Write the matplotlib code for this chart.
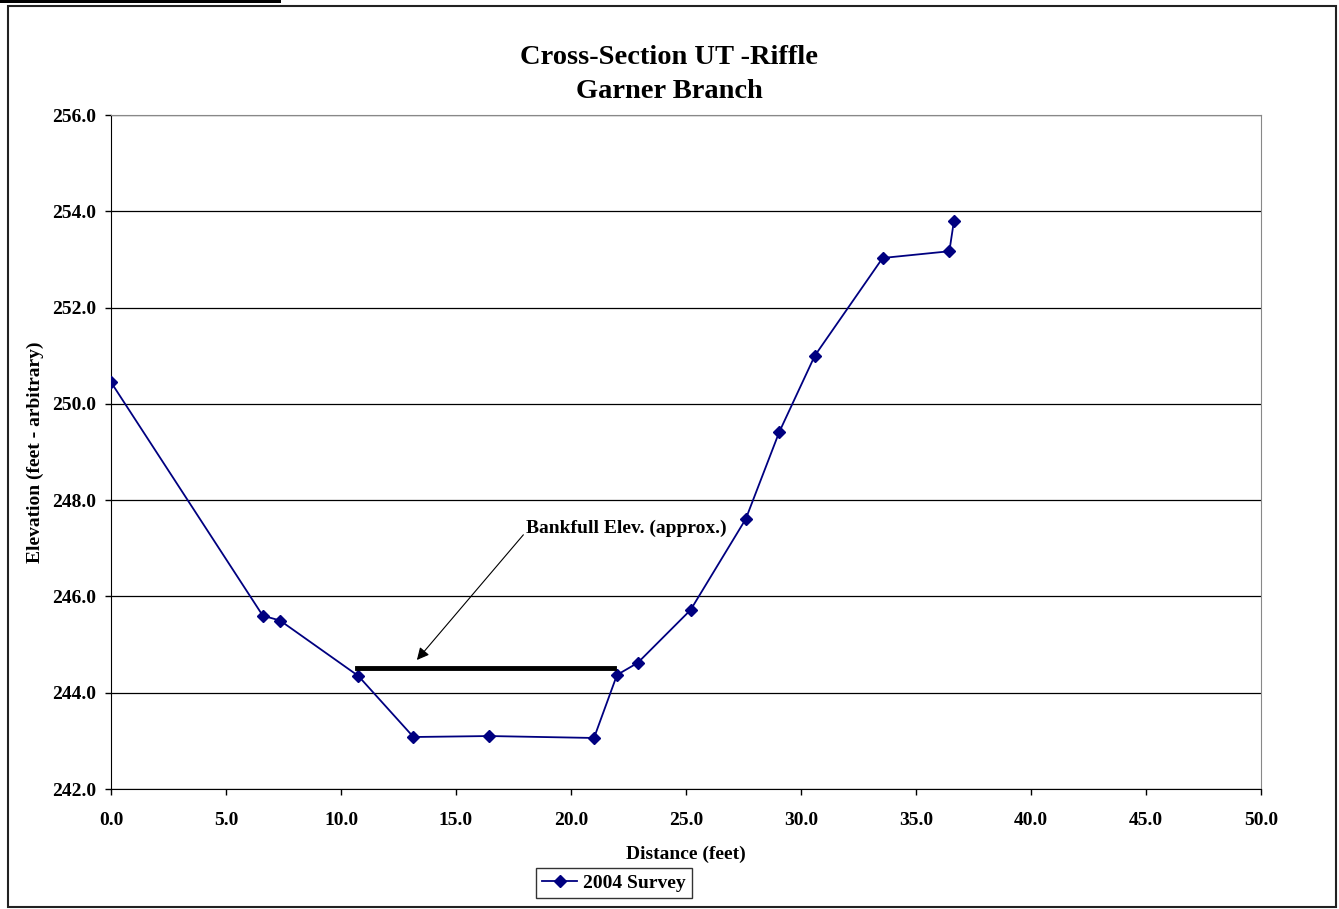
import matplotlib
matplotlib.use("Agg")
import matplotlib.pyplot as plt
from matplotlib.patches import Rectangle

distance = [0.0, 6.6, 7.35, 10.75, 13.15, 16.45, 21.0, 22.0, 22.9, 25.2, 27.6, 29.05, 30.6, 33.55, 36.45, 36.65]
elevation = [250.45, 245.6, 245.5, 244.35, 243.08, 243.1, 243.06, 244.37, 244.62, 245.72, 247.61, 249.41, 251.0, 253.03, 253.17, 253.8]
bankfull_x = [10.7, 21.85]
bankfull_y = [244.52, 244.52]
series_label = "2004 Survey"

plt.rcParams['font.family'] = ['Liberation Serif', 'DejaVu Serif']
plt.rcParams['font.weight'] = 'bold'

fig = plt.figure(figsize=(13.39, 9.09), dpi=100)
# outer chart border
fig.patches.append(Rectangle((8/1339, 1 - 907/909), 1328/1339, 901/909, transform=fig.transFigure,
                             fill=False, edgecolor='#222222', linewidth=1.5))
fig.patches.append(Rectangle((0, 1 - 3/909), 281/1339, 3/909, transform=fig.transFigure,
                             facecolor='black', edgecolor='none'))

ax = fig.add_axes([111/1339, 1 - 789/909, 1150/1339, 674/909])
ax.set_xlim(0, 50)
ax.set_ylim(242, 256)
ax.set_xticks([i * 5.0 for i in range(11)])
ax.set_yticks([242 + 2 * i for i in range(8)])
ax.set_xticklabels([f"{v:.1f}" for v in ax.get_xticks()], fontsize=14, fontweight='bold')
ax.set_yticklabels([f"{v:.1f}" for v in ax.get_yticks()], fontsize=14, fontweight='bold')
ax.yaxis.grid(True, color='black', linewidth=0.9)
ax.set_axisbelow(True)
ax.tick_params(direction='out', length=4.5, width=1, color='black')
ax.tick_params(axis='x', pad=12)
ax.tick_params(axis='y', pad=6)
ax.spines['top'].set_color('#888888')
ax.spines['right'].set_color('#888888')
ax.spines['left'].set_color('black')
ax.spines['bottom'].set_color('black')

ax.plot(distance, elevation, color='#000080', linewidth=1.3, marker='D', markersize=6,
        markerfacecolor='#000080', markeredgecolor='#000080', label=series_label, zorder=3)
ax.plot(bankfull_x, bankfull_y, color='black', linewidth=3.5, zorder=4)

ax.annotate("Bankfull Elev. (approx.)", xy=(13.3, 244.68), xytext=(18.05, 247.42),
            fontsize=14, fontweight='bold', ha='left', va='center',
            arrowprops=dict(arrowstyle='-|>', color='black', lw=0.8, mutation_scale=18,
                            shrinkA=0, shrinkB=0, relpos=(0.0, 0.3)))

fig.text(0.5, 1 - 57/909, "Cross-Section UT -Riffle", ha='center', va='center', fontsize=20.5, fontweight='bold')
fig.text(0.5, 1 - 92/909, "Garner Branch", ha='center', va='center', fontsize=20.5, fontweight='bold')
ax.set_xlabel("Distance (feet)", fontsize=14, fontweight='bold', labelpad=12)
ax.set_ylabel("Elevation (feet - arbitrary)", fontsize=14, fontweight='bold', labelpad=6)

leg = fig.legend(loc='center', bbox_to_anchor=(614/1339, 1 - 883/909),
                 frameon=True, fancybox=False, edgecolor='black', handlelength=1.8,
                 handletextpad=0.3, borderpad=0.3, borderaxespad=0,
                 prop={'weight': 'bold', 'size': 14})
leg.get_frame().set_linewidth(1.0)

fig.savefig("out.png", dpi=100)
